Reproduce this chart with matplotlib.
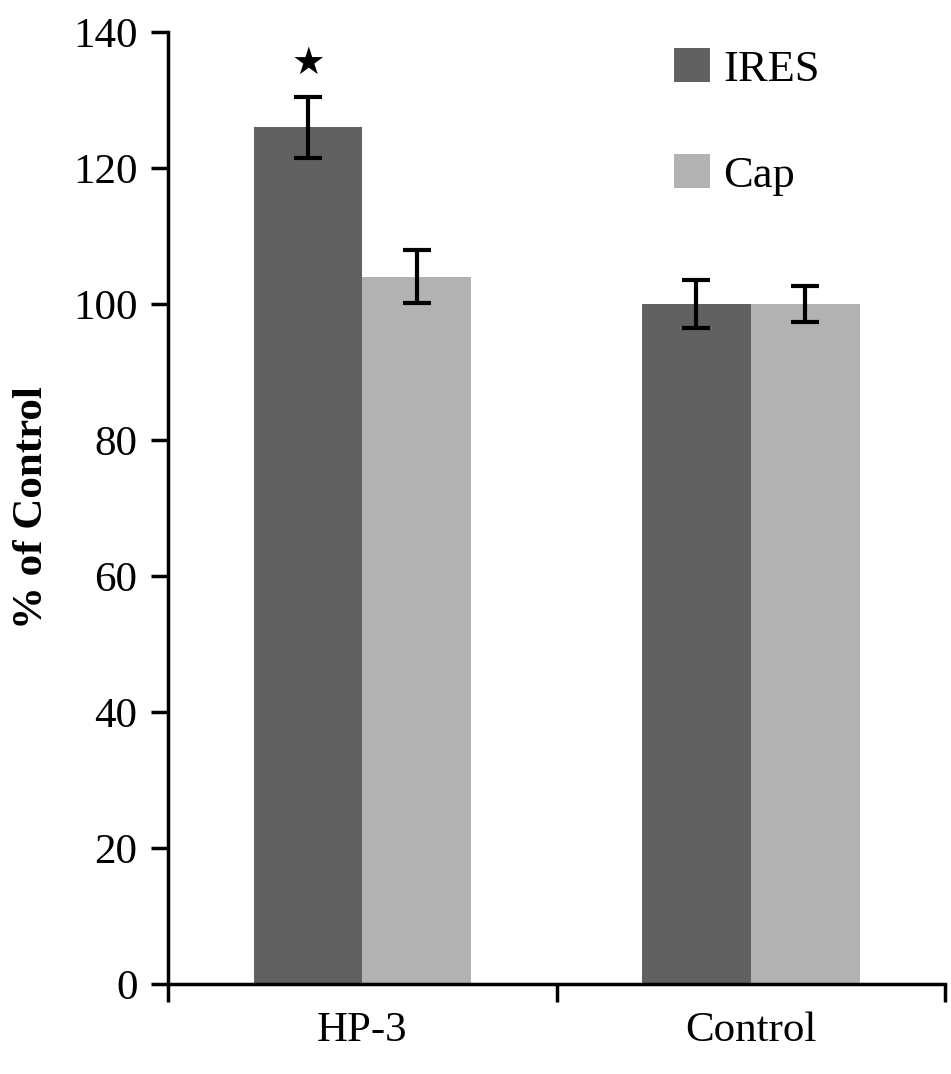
import matplotlib
matplotlib.use("Agg")
import matplotlib.pyplot as plt
import numpy as np

groups = ["HP-3", "Control"]
series = ["IRES", "Cap"]
ires_vals = [126, 100]
ires_err = [4.5, 3.6]
cap_vals = [104, 100]
cap_err = [3.9, 2.6]
colors = {"IRES": "#616161", "Cap": "#b2b2b2"}

plt.rcParams['font.family'] = ['Liberation Serif', 'DejaVu Serif']

fig = plt.figure(figsize=(9.51, 10.74), dpi=100)
ax = fig.add_axes([0.1767, 0.0838, 0.817, 0.8864])

centers = np.arange(len(groups)) + 0.5
w = 0.28

ebar = dict(ecolor="black", elinewidth=3, capsize=10, capthick=3)
ax.bar(centers - w / 2, ires_vals, w, yerr=ires_err, color=colors["IRES"],
       label="IRES", error_kw=ebar)
ax.bar(centers + w / 2, cap_vals, w, yerr=cap_err, color=colors["Cap"],
       label="Cap", error_kw=ebar)

# significance mark over HP-3 IRES
ax.text(centers[0] - w / 2, ires_vals[0] + ires_err[0] + 2.2, "★",
        ha="center", va="bottom", fontsize=27, family="DejaVu Sans")

ax.set_xlim(0, 2)
ax.set_ylim(0, 140)
ax.set_yticks(range(0, 141, 20))
ax.set_xticks([0, 1, 2])
ax.set_xticklabels([])
ax.set_xticks(centers, minor=True)
ax.set_xticklabels(groups, minor=True)
ax.tick_params(axis="x", which="minor", length=0, pad=20, labelsize=31)
ax.tick_params(axis="x", which="major", direction="out", length=13, width=2.5)
ax.tick_params(axis="y", direction="out", length=12, width=2.5, labelsize=31, pad=10)

for s in ["top", "right"]:
    ax.spines[s].set_visible(False)
for s in ["left", "bottom"]:
    ax.spines[s].set_linewidth(2.5)

ax.set_ylabel("% of Control", fontsize=31, fontweight="bold", labelpad=16)

ax.legend(loc="upper left", bbox_to_anchor=(0.6, 1.025), frameon=False,
          fontsize=32, handlelength=0.8, handleheight=0.8,
          labelspacing=1.45, handletextpad=0.3)

fig.savefig("out.png", dpi=100)
